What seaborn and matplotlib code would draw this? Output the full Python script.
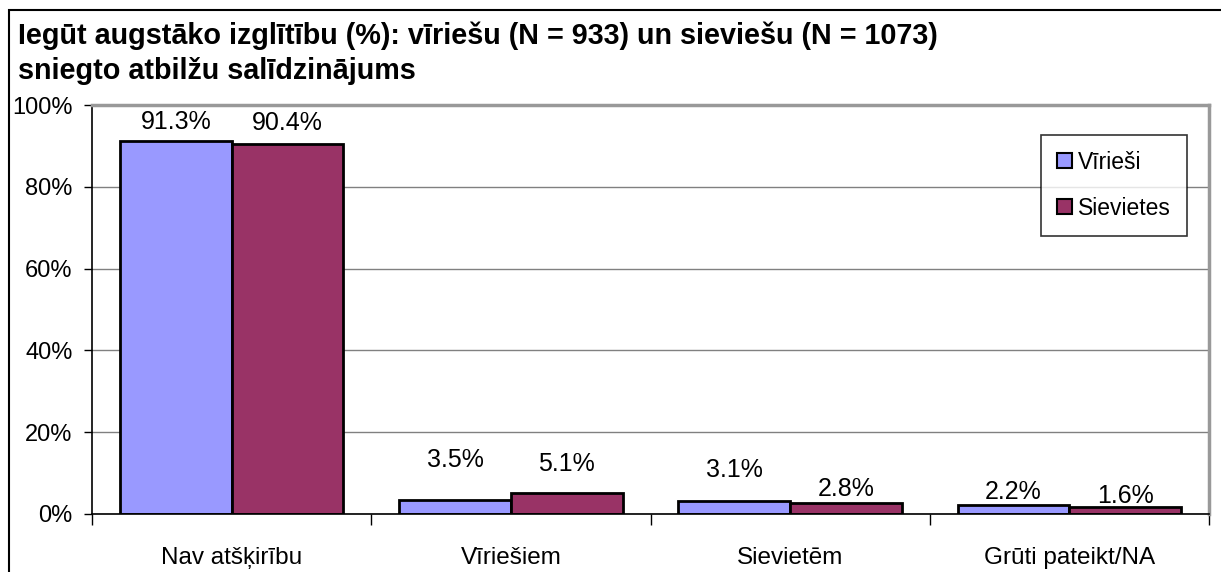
import numpy as np
import matplotlib
matplotlib.use("Agg")
import matplotlib.pyplot as plt
import pandas as pd
import seaborn as sns
from matplotlib.patches import Rectangle, Patch

# data
kategorijas = ["Nav atšķirību", "Vīriešiem", "Sievietēm", "Grūti pateikt/NA"]
virieši = [91.3, 3.5, 3.1, 2.2]
sievietes = [90.4, 5.1, 2.8, 1.6]
grupas = ["Vīrieši", "Sievietes"]
y_ticks = [0, 20, 40, 60, 80, 100]
virsraksts = ["Iegūt augstāko izglītību (%): vīriešu (N = 933) un sieviešu (N = 1073)",
              "sniegto atbilžu salīdzinājums"]

# extra lift of each value label (in %), as Excel placed them
lift_v = [4.5, 9.7, 7.7, 3.2]
lift_s = [5.2, 7.1, 3.3, 2.8]

df = pd.DataFrame({
    "kategorija": kategorijas * 2,
    "vērtība": virieši + sievietes,
    "dzimums": [grupas[0]] * 4 + [grupas[1]] * 4,
})

sns.set_style("white")
plt.rcParams["font.family"] = ["Liberation Sans", "DejaVu Sans"]
plt.rcParams["text.color"] = "black"
plt.rcParams["xtick.color"] = "black"
plt.rcParams["ytick.color"] = "black"

fig = plt.figure(figsize=(12.21, 5.72), dpi=100)
ax = fig.add_axes([92 / 1221, 1 - 514 / 572, (1209 - 92) / 1221, (514 - 105) / 572])

colors = {"Vīrieši": "#9999FF", "Sievietes": "#993366"}
sns.barplot(data=df, x="kategorija", y="vērtība", hue="dzimums", palette=colors,
            saturation=1, width=0.8, edgecolor="black", linewidth=2, ax=ax, legend=False)

ax.set_ylim(0, 100)
ax.set_xlim(-0.5, 3.5)
ax.set_yticks(y_ticks)
ax.set_yticklabels([f"{t}%" for t in y_ticks], fontsize=17)
ax.yaxis.grid(True, color="#808080", linewidth=1)
ax.set_axisbelow(True)
ax.tick_params(axis="y", left=True, length=6, width=1, color="black", pad=8)

# ticks at category boundaries, labels at centres
ax.set_xticks(np.arange(-0.5, 4.0, 1.0))
ax.set_xticklabels([])
ax.tick_params(axis="x", which="major", bottom=True, length=8, width=1, color="black")
ax.set_xticks(np.arange(4), minor=True)
ax.set_xticklabels(kategorijas, minor=True, fontsize=17.5)
ax.tick_params(axis="x", which="minor", bottom=True, length=0, pad=24)
ax.set_xlabel("")
ax.set_ylabel("")

for name in ["left", "bottom"]:
    ax.spines[name].set_color("black")
    ax.spines[name].set_linewidth(1.2)
for name in ["top", "right"]:
    ax.spines[name].set_color("#999999")
    ax.spines[name].set_linewidth(2.5)

for cont, lifts in zip(ax.containers, [lift_v, lift_s]):
    for bar, lift in zip(cont, lifts):
        h = bar.get_height()
        ax.text(bar.get_x() + bar.get_width() / 2, h + lift, f"{h:.1f}%",
                ha="center", va="center", fontsize=18)

handles = [Patch(facecolor=colors[g], edgecolor="black", linewidth=1.5) for g in grupas]
leg = ax.legend(handles, grupas, loc="upper right", bbox_to_anchor=(0.980, 0.927),
                borderaxespad=0, fontsize=16.5, frameon=True, fancybox=False,
                edgecolor="black", handlelength=0.65, handleheight=0.65,
                handletextpad=0.25, labelspacing=1.0, borderpad=0.7)
leg.get_frame().set_linewidth(1.2)

fig.text(18 / 1221, 1 - 44 / 572, virsraksts[0], fontsize=20.7, fontweight="bold", va="baseline")
fig.text(18 / 1221, 1 - 79 / 572, virsraksts[1], fontsize=20.7, fontweight="bold", va="baseline")

fig.patches.append(Rectangle((9 / 1221, -0.05), 1.2, 1 - 10 / 572 + 0.05,
                             transform=fig.transFigure, fill=False,
                             edgecolor="black", linewidth=1.5))

fig.savefig("out.png", dpi=100)
